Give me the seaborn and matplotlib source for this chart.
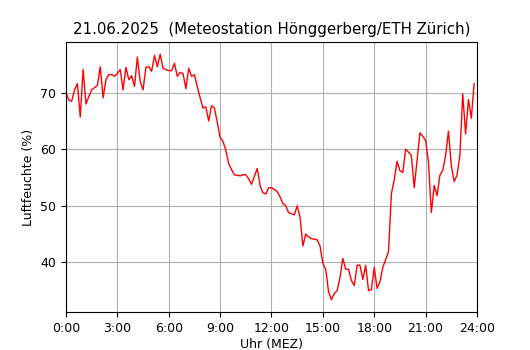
import matplotlib
matplotlib.use("Agg")
import matplotlib.pyplot as plt
import seaborn as sns
import numpy as np
import pandas as pd

title = "21.06.2025  (Meteostation Hönggerberg/ETH Zürich)"
xlabel = "Uhr (MEZ)"
ylabel = "Luftfeuchte (%)"
tick_hours = [0, 3, 6, 9, 12, 15, 18, 21, 24]
tick_labels = ["0:00", "3:00", "6:00", "9:00", "12:00", "15:00", "18:00", "21:00", "24:00"]

# relative humidity, 10-minute readings from 0:00
humidity = [
    70.0, 68.7, 68.5, 70.5, 71.6, 65.7, 74.1, 68.0, 69.3, 70.5,
    70.9, 71.3, 74.6, 69.1, 72.3, 73.2, 73.2, 72.9, 73.4, 74.1,
    70.5, 74.5, 72.3, 73.0, 71.1, 76.3, 72.0, 70.5, 74.5, 74.6,
    73.8, 76.6, 74.6, 76.8, 74.3, 74.1, 73.9, 73.9, 75.2, 72.9,
    73.6, 73.4, 70.7, 74.3, 72.9, 73.2, 71.1, 69.1, 67.3, 67.5,
    65.0, 67.7, 67.3, 64.8, 62.1, 61.4, 59.8, 57.5, 56.4, 55.5,
    55.4, 55.3, 55.5, 55.5, 54.8, 53.8, 55.2, 56.6, 53.6, 52.3,
    52.1, 53.2, 53.2, 52.9, 52.5, 51.6, 50.4, 50.0, 48.8, 48.6,
    48.4, 50.0, 48.0, 42.9, 45.0, 44.5, 44.2, 44.1, 44.0, 42.9,
    39.8, 38.8, 34.8, 33.4, 34.5, 35.0, 37.3, 40.7, 38.8, 38.8,
    36.8, 35.9, 39.5, 39.5, 37.0, 39.5, 35.0, 35.2, 39.1, 35.4,
    36.6, 39.1, 40.5, 41.9, 52.1, 54.6, 57.9, 56.2, 55.9, 60.0,
    59.5, 58.9, 53.2, 58.0, 62.9, 62.3, 61.6, 57.7, 48.8, 53.6,
    51.8, 55.4, 56.3, 58.9, 63.2, 57.1, 54.3, 55.4, 58.9, 69.8,
    62.7, 68.8, 65.5, 71.6,
]
hours = [i / 6 for i in range(len(humidity))]

df = pd.DataFrame({"Uhr": hours, "Luftfeuchte": humidity})

fig = plt.figure(figsize=(5.3, 3.5), dpi=100)
ax = fig.add_axes([0.1245, 0.1086, 0.7755, 0.7714])
sns.lineplot(data=df, x="Uhr", y="Luftfeuchte", color="red", linewidth=1.0, ax=ax)
ax.set_xlim(0, 24)
ax.set_xticks(tick_hours)
ax.set_xticklabels(tick_labels, fontsize=9)
ax.set_yticks([40, 50, 60, 70])
ax.tick_params(axis="y", labelsize=9)
ax.grid(True, color="#b0b0b0", linewidth=0.8)
ax.set_axisbelow(True)
ax.set_xlabel(xlabel, fontsize=9, labelpad=2.5)
ax.set_ylabel(ylabel, fontsize=9)
ax.set_title(title, fontsize=10.8)
fig.savefig("out.png", dpi=100)
